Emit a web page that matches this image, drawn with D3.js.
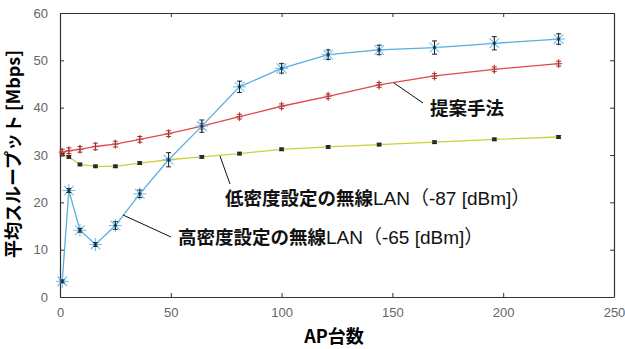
<!DOCTYPE html>
<html>
<head>
<meta charset="utf-8">
<script src="https://cdn.jsdelivr.net/npm/d3@7"></script>
<style>
  body { margin: 0; background: #fff; }
  svg { display: block; }
</style>
</head>
<body>
<div id="chart"></div>
<script>
// AP counts (squares) shared by every series
var apCounts = [1, 4, 9, 16, 25, 36, 49, 64, 81, 100, 121, 144, 169, 196, 225];

var highDensity    = [3.3, 22.5, 14.1, 11.1, 15.1, 21.8, 29.0, 36.1, 44.4, 48.3, 51.2, 52.2, 52.7, 53.6, 54.5];
var highDensityErr = [0.3, 0.4, 0.4, 0.4, 0.8, 0.8, 1.5, 1.3, 1.2, 1.0, 1.0, 1.0, 1.4, 1.4, 1.1];

var proposed       = [30.6, 30.9, 31.2, 31.8, 32.3, 33.3, 34.5, 36.1, 38.1, 40.3, 42.4, 44.8, 46.7, 48.1, 49.3];
var proposedErr    = [0.6, 0.6, 0.6, 0.7, 0.6, 0.6, 0.6, 0.6, 0.5, 0.5, 0.5, 0.5, 0.5, 0.5, 0.5];

var lowDensity     = [30.1, 29.6, 28.0, 27.6, 27.6, 28.3, 29.0, 29.6, 30.3, 31.2, 31.7, 32.2, 32.7, 33.3, 33.8];
var lowDensityErr  = [0.3, 0.3, 0.3, 0.3, 0.3, 0.3, 0.3, 0.3, 0.3, 0.3, 0.3, 0.3, 0.3, 0.3, 0.3];

var xTicks = [0, 50, 100, 150, 200, 250];
var yTicks = [0, 10, 20, 30, 40, 50, 60];

var W = 625, H = 349;
var margin = {left: 60, right: 11, top: 13, bottom: 52};
var FONT = "'Liberation Sans', Arial, 'Noto Sans CJK JP', sans-serif";
var CJK = "'Noto Sans CJK JP', 'Liberation Sans', sans-serif";

var svg = d3.select("#chart").append("svg")
	.attr("width", W)
	.attr("height", H);

var x = d3.scaleLinear().domain([0, 250]).range([margin.left, W - margin.right]);
var y = d3.scaleLinear().domain([0, 60]).range([H - margin.bottom, margin.top]);

//AXES, WITH MIRRORED TICKS ON TOP AND RIGHT
var axisColor = "#333";
function styleAxis(g){
	g.select(".domain").attr("stroke", axisColor).attr("stroke-width", 1.2);
	g.selectAll(".tick line").attr("stroke", axisColor);
	g.selectAll(".tick text").attr("fill", "#666").style("font-family", FONT).style("font-size", "13px");
}

svg.append("g")
	.attr("transform", "translate(0," + y(0) + ")")
	.call(d3.axisBottom(x).tickValues(xTicks).tickSize(-4).tickPadding(11).tickSizeOuter(0))
	.call(styleAxis);
svg.append("g")
	.attr("transform", "translate(" + x(0) + ",0)")
	.call(d3.axisLeft(y).tickValues(yTicks).tickSize(-4).tickPadding(12).tickSizeOuter(0))
	.call(styleAxis);
svg.append("g")
	.attr("transform", "translate(0," + y(60) + ")")
	.call(d3.axisTop(x).tickValues(xTicks).tickSize(-4).tickFormat("").tickSizeOuter(0))
	.call(styleAxis);
svg.append("g")
	.attr("transform", "translate(" + x(250) + ",0)")
	.call(d3.axisRight(y).tickValues(yTicks).tickSize(-4).tickFormat("").tickSizeOuter(0))
	.call(styleAxis);

//SERIES
var series = [
	{name: "low", values: lowDensity, err: lowDensityErr, color: "#cfcf3c", marker: "square"},
	{name: "proposed", values: proposed, err: proposedErr, color: "#e2474a", marker: "plus"},
	{name: "high", values: highDensity, err: highDensityErr, color: "#5aaedc", marker: "star"}
];

var line = d3.line()
	.x(function(d){ return x(d[0]); })
	.y(function(d){ return y(d[1]); });

series.forEach(function(s){
	var pts = apCounts.map(function(a, i){ return [a, s.values[i], s.err[i]]; });
	var g = svg.append("g");

	g.append("path")
		.datum(pts)
		.attr("d", line)
		.attr("fill", "none")
		.attr("stroke", s.color)
		.attr("stroke-width", 1.3);

	//MARKERS
	var m = g.selectAll(".m").data(pts).enter().append("g")
		.attr("transform", function(d){ return "translate(" + x(d[0]) + "," + y(d[1]) + ")"; });
	if (s.marker == "star") {
		var r = 6.5;
		[[-r, 0, r, 0], [0, -r, 0, r], [-r*0.75, -r*0.75, r*0.75, r*0.75], [-r*0.75, r*0.75, r*0.75, -r*0.75]].forEach(function(c){
			m.append("line")
				.attr("x1", c[0]).attr("y1", c[1]).attr("x2", c[2]).attr("y2", c[3])
				.attr("stroke", "#78c3ec").attr("stroke-width", 1.1);
		});
		m.append("circle").attr("r", 1.8).attr("fill", "#1f5d8a");
	} else if (s.marker == "plus") {
		m.append("line").attr("x1", -3.5).attr("x2", 3.5).attr("stroke", s.color).attr("stroke-width", 1.3);
		m.append("line").attr("y1", -4.5).attr("y2", 4.5).attr("stroke", s.color).attr("stroke-width", 1.3);
	} else {
		m.append("rect").attr("x", -2.2).attr("y", -1.6).attr("width", 4.4).attr("height", 3.2).attr("fill", "#333");
	}

	//ERROR BARS
	var ebColor = s.marker == "plus" ? "#8a3a3a" : "#222";
	var eb = g.selectAll(".eb").data(pts).enter().append("g");
	eb.append("line")
		.attr("x1", function(d){ return x(d[0]); })
		.attr("x2", function(d){ return x(d[0]); })
		.attr("y1", function(d){ return y(d[1] - d[2]); })
		.attr("y2", function(d){ return y(d[1] + d[2]); })
		.attr("stroke", ebColor).attr("stroke-width", 1);
	[-1, 1].forEach(function(sign){
		eb.append("line")
			.attr("x1", function(d){ return x(d[0]) - 2.5; })
			.attr("x2", function(d){ return x(d[0]) + 2.5; })
			.attr("y1", function(d){ return y(d[1] + sign * d[2]); })
			.attr("y2", function(d){ return y(d[1] + sign * d[2]); })
			.attr("stroke", ebColor).attr("stroke-width", 1);
	});
});

//ANNOTATIONS
var ann = svg.append("g").attr("fill", "#111");

function label(tx, ty, cjk, latin){
	var t = ann.append("text").attr("x", tx).attr("y", ty);
	t.append("tspan").text(cjk).style("font-family", CJK).attr("font-weight", "bold").attr("font-size", "18.5px");
	if (latin) t.append("tspan").text(latin).style("font-family", FONT).attr("font-weight", "normal").attr("font-size", "19px");
}

ann.append("line").attr("x1", 394).attr("y1", 83).attr("x2", 423).attr("y2", 103).attr("stroke", "#111");
label(430, 115, "提案手法", null);

ann.append("line").attr("x1", 220).attr("y1", 156).attr("x2", 230).attr("y2", 184).attr("stroke", "#111");
label(225, 205, "低密度設定の無線", "LAN（-87 [dBm]）");

ann.append("line").attr("x1", 123).attr("y1", 215).attr("x2", 171).attr("y2", 237).attr("stroke", "#111");
label(178, 244, "高密度設定の無線", "LAN（-65 [dBm]）");

//AXIS TITLES
svg.append("text")
	.attr("x", 334).attr("y", 343)
	.attr("text-anchor", "middle")
	.attr("font-size", "18px").attr("font-weight", "bold")
	.style("font-family", CJK)
	.text("AP台数");

svg.append("text")
	.attr("transform", "translate(20," + 154 + ") rotate(-90)")
	.attr("text-anchor", "middle")
	.attr("font-size", "18px").attr("font-weight", "bold")
	.style("font-family", CJK)
	.text("平均スループット [Mbps]");
</script>
</body>
</html>
